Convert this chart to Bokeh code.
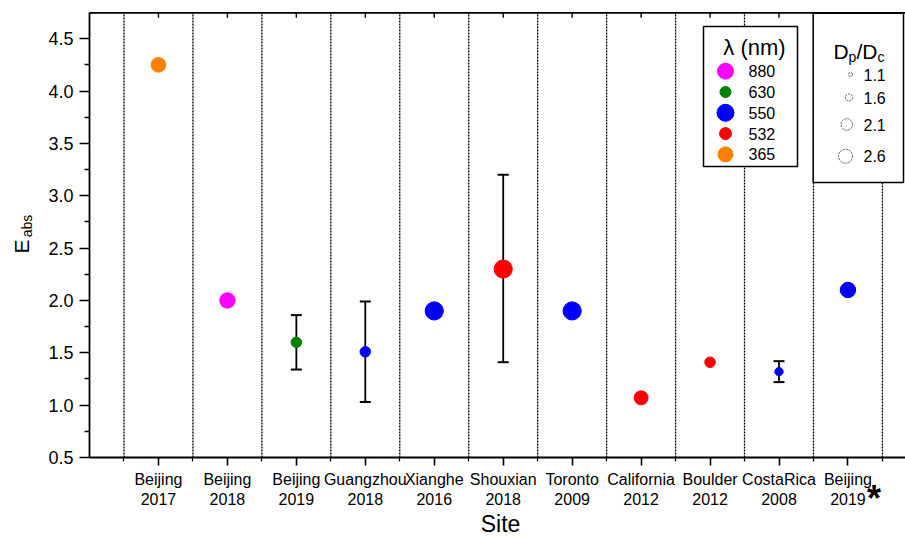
import numpy as np
from bokeh.plotting import figure
from bokeh.models import (ColumnDataSource, Range1d, LinearAxis, FixedTicker,
                          Whisker, TeeHead)
from bokeh.core.properties import value
from bokeh.embed import file_html
from bokeh.resources import INLINE

# ---------------- data ----------------
sites = ["Beijing", "Beijing", "Beijing", "Guangzhou", "Xianghe", "Shouxian",
         "Toronto", "California", "Boulder", "CostaRica", "Beijing"]
years = ["2017", "2018", "2019", "2018", "2016", "2018",
         "2009", "2012", "2012", "2008", "2019"]
e_abs = [4.25, 2.0, 1.6, 1.51, 1.9, 2.3, 1.9, 1.07, 1.41, 1.32, 2.1]
err_low = [None, None, 1.34, 1.03, None, 1.41, None, None, None, 1.22, None]
err_high = [None, None, 1.86, 1.99, None, 3.2, None, None, None, 1.42, None]
wavelength = [365, 880, 630, 550, 550, 532, 550, 532, 532, 550, 550]
dp_dc = [2.1, 2.2, 1.5, 1.5, 2.6, 2.6, 2.6, 2.0, 1.5, 1.2, 2.2]

legend_wavelengths = [880, 630, 550, 532, 365]
legend_dpdc = [1.1, 1.6, 2.1, 2.6]
y_ticks = [0.5, 1.0, 1.5, 2.0, 2.5, 3.0, 3.5, 4.0, 4.5]
y_tick_labels = ["0.5", "1.0", "1.5", "2.0", "2.5", "3.0", "3.5", "4.0", "4.5"]
Y_MIN = 0.5

# ---------------- styles / layout ----------------
FONT = "Liberation Sans"
wl_colors = {880: "#FF00FF", 630: "#008000", 550: "#0000FF", 532: "#FF0000", 365: "#FF8000"}
SIZE_PER_DPDC = 7.0
legend_wl_sizes = [16, 11, 17, 12, 15]
legend_dp_sizes = [4, 7, 11.5, 14]

W, H = 905, 538            # canvas == frame
AXIS_LEFT = 89             # pixel column of the y axis
AXIS_BOTTOM = 457          # pixel row of the x axis
BOX_TOP = 12.3             # pixel row of the top border
CAT_PX = 68.95             # pixels per site
Y_PX = 104.7               # pixels per unit of E_abs

n = len(sites)
xs = list(range(1, n + 1))
bounds = [i + 0.5 for i in range(0, n + 1)]

x_start = -AXIS_LEFT / CAT_PX
x_end = (W - AXIS_LEFT) / CAT_PX
y_start = Y_MIN - (H - AXIS_BOTTOM) / Y_PX
y_end = Y_MIN + AXIS_BOTTOM / Y_PX
y_top = Y_MIN + (AXIS_BOTTOM - BOX_TOP) / Y_PX


def y_of_row(ypage):
    return Y_MIN + (AXIS_BOTTOM - ypage) / Y_PX


p = figure(frame_width=W, frame_height=H,
           x_range=Range1d(x_start, x_end), y_range=Range1d(y_start, y_end),
           output_backend="svg", toolbar_location=None,
           min_border=0, background_fill_color="white",
           border_fill_color="white", x_axis_location=None, y_axis_location=None)
p.outline_line_color = None
p.xgrid.visible = False
p.ygrid.visible = False
p.extra_x_ranges = {"px": Range1d(0, W)}
p.extra_y_ranges = {"px": Range1d(0, H)}


def py(ypage):
    return H - ypage


AX_W = 1.8
# bottom axis
xa = LinearAxis(fixed_location=Y_MIN, bounds=(0, x_end),
                ticker=FixedTicker(ticks=xs, minor_ticks=bounds),
                major_label_overrides={x: f"{s}\n{y}" for x, s, y in zip(xs, sites, years)},
                major_label_text_font=FONT, major_label_text_font_size="16px",
                major_label_text_color="black", major_label_standoff=5,
                major_tick_out=8, major_tick_in=0, minor_tick_out=4, minor_tick_in=0,
                axis_line_width=AX_W, major_tick_line_width=1.6, minor_tick_line_width=1.2,
                axis_line_color="black", major_tick_line_color="black",
                minor_tick_line_color="black")
p.add_layout(xa, "below")

# left axis
ya = LinearAxis(fixed_location=0, bounds=(Y_MIN, y_top),
                ticker=FixedTicker(ticks=y_ticks, minor_ticks=[t + 0.25 for t in y_ticks[:-1]]),
                major_label_overrides={t: l for t, l in zip(y_ticks, y_tick_labels)},
                major_label_text_font=FONT, major_label_text_font_size="18px",
                major_label_text_color="black", major_label_standoff=6,
                major_tick_out=10, major_tick_in=0, minor_tick_out=5, minor_tick_in=0,
                axis_line_width=AX_W, major_tick_line_width=1.6, minor_tick_line_width=1.4,
                axis_line_color="black", major_tick_line_color="black",
                minor_tick_line_color="black")
p.add_layout(ya, "left")

# y-axis title "E" with subscript "abs": two label-only axes (rotated text)
for txt, fs, mid_row, standoff in [("E", "21px", 246, 57), ("abs", "14px", 225.5, 55)]:
    mid = y_of_row(mid_row)
    lab_axis = LinearAxis(fixed_location=0, bounds=(mid - 0.02, mid + 0.02),
                          ticker=FixedTicker(ticks=[], minor_ticks=[]),
                          axis_line_color=None, major_tick_line_color=None,
                          minor_tick_line_color=None, major_tick_out=0, minor_tick_out=0,
                          major_label_text_font_size="0px",
                          axis_label=txt, axis_label_text_font=FONT,
                          axis_label_text_font_size=fs, axis_label_text_font_style="normal",
                          axis_label_text_color="black", axis_label_standoff=standoff)
    p.add_layout(lab_axis, "left")

# top border with inward ticks at each site
p.segment(x0=[0], y0=[y_top], x1=[x_end], y1=[y_top], line_color="black", line_width=AX_W)
p.ray(x=xs, y=[y_top] * n, length=5, length_units="screen", angle=-np.pi / 2,
      line_color="black", line_width=1.4)

# dotted separators between sites
p.segment(x0=bounds, y0=[Y_MIN] * len(bounds), x1=bounds, y1=[y_top] * len(bounds),
          line_color="black", line_dash="2 1", line_width=1.3)

# error bars
ei = [i for i in range(n) if err_low[i] is not None]
wsrc = ColumnDataSource(dict(x=[xs[i] for i in ei],
                             lo=[err_low[i] for i in ei],
                             hi=[err_high[i] for i in ei]))
w = Whisker(base="x", lower="lo", upper="hi", source=wsrc, level="underlay",
            line_color="black", line_width=1.8,
            upper_head=TeeHead(size=11, line_width=2, line_color="black"),
            lower_head=TeeHead(size=11, line_width=2, line_color="black"))
p.add_layout(w)

# data points
src = ColumnDataSource(dict(x=xs, y=e_abs,
                            size=[d * SIZE_PER_DPDC for d in dp_dc],
                            color=[wl_colors[w_] for w_ in wavelength]))
p.scatter("x", "y", size="size", fill_color="color", line_color="color", source=src)

TXT = dict(text_font=value(FONT), text_color="black", x_range_name="px", y_range_name="px")

# star after last site label
p.text([873.5], [py(497.5)], text=["*"], text_font_size=value("36px"),
       text_font_style="bold", text_align="center", text_baseline="alphabetic", **TXT)

# x axis title
p.text([500], [py(523)], text=["Site"], text_font_size=value("23px"),
       text_align="center", text_baseline="middle", **TXT)

# ---------------- legends (pixel coordinates) ----------------
p.quad(left=[703, 812.7], right=[797, 903], top=[py(26), py(12.7)], bottom=[py(166), py(182)],
       fill_color="white", line_color="black", line_width=1.5,
       x_range_name="px", y_range_name="px")

wl_rows = [py(70.7 + 20.8 * k) for k in range(len(legend_wavelengths))]
p.scatter([725] * len(wl_rows), wl_rows, size=legend_wl_sizes,
          fill_color=[wl_colors[w_] for w_ in legend_wavelengths],
          line_color=[wl_colors[w_] for w_ in legend_wavelengths],
          x_range_name="px", y_range_name="px")
p.text([748] * len(wl_rows), wl_rows, text=[str(w_) for w_ in legend_wavelengths],
       text_font_size=value("16px"), text_baseline="middle", text_align="left", **TXT)
p.text([754], [py(47)], text=["\u03bb (nm)"], text_font_size=value("22px"),
       text_baseline="middle", text_align="center", **TXT)

dp_rows = [py(v) for v in (74, 97, 124, 155.7)]
p.scatter([852 - s / 2 for s in legend_dp_sizes], dp_rows, size=legend_dp_sizes,
          fill_color=None, line_color="#555555", line_dash="2 1", line_width=1,
          x_range_name="px", y_range_name="px")
p.text([863] * len(dp_rows), dp_rows, text=[f"{d:.1f}" for d in legend_dpdc],
       text_font_size=value("16px"), text_baseline="middle", text_align="left", **TXT)
title_parts = [("D", 833, 51, "21px"), ("p", 848, 56, "14px"),
               ("/D", 856, 51, "21px"), ("c", 877, 56, "14px")]
for t, xp, yp, fs in title_parts:
    p.text([xp], [py(yp)], text=[t], text_font_size=value(fs),
           text_baseline="alphabetic", text_align="left", **TXT)

open("out.html", "w").write(file_html(p, INLINE))
